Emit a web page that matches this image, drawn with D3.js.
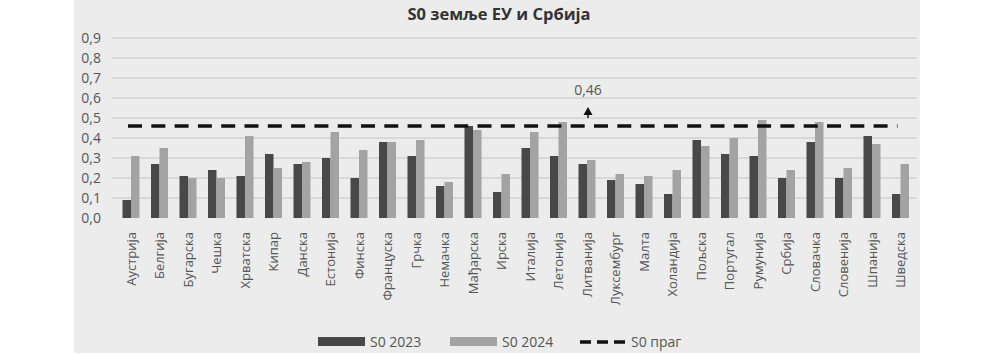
<html>
  <head>
    <script src="https://cdn.jsdelivr.net/npm/d3@7"></script>
    <style>
      body { margin: 0; background: #fff; }
      text { font-family: "Open Sans", sans-serif; }
    </style>
  </head>
  <body>
    <div id="chart"></div>
    <script>
      // categories (countries) and values
      const countries = [
        "Аустрија", "Белгија", "Бугарска", "Чешка", "Хрватска", "Кипар", "Данска",
        "Естонија", "Финска", "Француска", "Грчка", "Немачка", "Мађарска", "Ирска",
        "Италија", "Летонија", "Литванија", "Луксембург", "Малта", "Холандија",
        "Пољска", "Португал", "Румунија", "Србија", "Словачка", "Словенија",
        "Шпанија", "Шведска"
      ];
      const s0_2023 = [
        0.09, 0.27, 0.21, 0.24, 0.21, 0.32, 0.27, 0.30, 0.20, 0.38, 0.31, 0.16, 0.46, 0.13,
        0.35, 0.31, 0.27, 0.19, 0.17, 0.12, 0.39, 0.32, 0.31, 0.20, 0.38, 0.20, 0.41, 0.12
      ];
      const s0_2024 = [
        0.31, 0.35, 0.20, 0.20, 0.41, 0.25, 0.28, 0.43, 0.34, 0.38, 0.39, 0.18, 0.44, 0.22,
        0.43, 0.48, 0.29, 0.22, 0.21, 0.24, 0.36, 0.40, 0.49, 0.24, 0.48, 0.25, 0.37, 0.27
      ];
      const threshold = 0.46;
      const yTicks = [0, 0.1, 0.2, 0.3, 0.4, 0.5, 0.6, 0.7, 0.8, 0.9];
      const seriesNames = ["S0 2023", "S0 2024", "S0 праг"];

      let width = 994, height = 354;
      let svg = d3.select("#chart").append("svg")
        .attr("width", width).attr("height", height);

      // chart area background
      svg.append("rect")
        .attr("x", 74).attr("y", 0)
        .attr("width", 846).attr("height", 353)
        .attr("fill", "#ececec");

      let x = d3.scaleBand().domain(countries).range([116.75, 914.75]);
      let y = d3.scaleLinear().domain([0, 0.9]).range([218, 38]);
      let inner = d3.scaleBand().domain([0, 1]).range([0, 17]);
      let off = (x.bandwidth() - 17) / 2;

      // gridlines
      svg.append("g").selectAll("line")
        .data(yTicks.slice(1))
        .enter().append("line")
        .attr("x1", 112).attr("x2", 917)
        .attr("y1", d => y(d)).attr("y2", d => y(d))
        .attr("stroke", "#c4c4c4").attr("stroke-width", 1);

      // y axis labels
      let yAxis = d3.axisLeft(y).tickValues(yTicks)
        .tickFormat(d => d3.format(".1f")(d).replace(".", ","))
        .tickSize(0).tickPadding(0);
      let yg = svg.append("g").attr("transform", "translate(101,0)").call(yAxis);
      yg.select(".domain").remove();
      yg.selectAll("text")
        .attr("font-size", 14).attr("fill", "#555")
        .attr("font-family", "Open Sans, sans-serif");

      // bars
      let bars = svg.append("g");
      bars.selectAll(".b23").data(countries).enter().append("rect")
        .attr("x", d => x(d) + off + inner(0))
        .attr("y", (d, i) => y(s0_2023[i]))
        .attr("width", inner.bandwidth())
        .attr("height", (d, i) => y(0) - y(s0_2023[i]))
        .attr("fill", "#484848");
      bars.selectAll(".b24").data(countries).enter().append("rect")
        .attr("x", d => x(d) + off + inner(1))
        .attr("y", (d, i) => y(s0_2024[i]))
        .attr("width", inner.bandwidth())
        .attr("height", (d, i) => y(0) - y(s0_2024[i]))
        .attr("fill", "#a3a3a3");

      // threshold line
      let line = d3.line()
        .x(d => x(d) + x.bandwidth() / 2 - 3)
        .y(() => y(threshold));
      svg.append("path")
        .datum(countries)
        .attr("d", line)
        .attr("fill", "none")
        .attr("stroke", "#111")
        .attr("stroke-width", 3.5)
        .attr("stroke-dasharray", "14,9.3");

      // annotation 0,46 with arrow
      let ax = x("Литванија") + x.bandwidth() / 2 + 1;
      let ay = y(threshold);
      svg.append("text")
        .attr("x", ax).attr("y", ay - 31)
        .attr("text-anchor", "middle")
        .attr("font-size", 14).attr("fill", "#555")
        .text(d3.format(".2f")(threshold).replace(".", ","));
      svg.append("path")
        .attr("d", `M${ax},${ay - 19} L${ax - 4.5},${ay - 11} L${ax + 4.5},${ay - 11} Z`)
        .attr("fill", "#111");
      svg.append("line")
        .attr("x1", ax).attr("x2", ax)
        .attr("y1", ay - 12).attr("y2", ay - 8)
        .attr("stroke", "#111").attr("stroke-width", 1.5);

      // x labels, rotated
      svg.append("g").selectAll("text")
        .data(countries)
        .enter().append("text")
        .attr("transform", d => `translate(${x(d) + x.bandwidth() / 2 + 4.5},232) rotate(-90)`)
        .attr("text-anchor", "end")
        .attr("font-size", 13)
        .attr("fill", "#555")
        .text(d => d);

      // title
      svg.append("text")
        .attr("x", 499).attr("y", 20)
        .attr("text-anchor", "middle")
        .attr("font-size", 16.5).attr("font-weight", "bold")
        .attr("fill", "#333")
        .text("S0 земље ЕУ и Србија");

      // legend
      let lg = svg.append("g").attr("font-size", 14).attr("fill", "#555");
      lg.append("rect").attr("x", 318).attr("y", 337).attr("width", 47).attr("height", 9).attr("fill", "#484848");
      lg.append("text").attr("x", 370).attr("y", 347).attr("fill", "#555").text(seriesNames[0]);
      lg.append("rect").attr("x", 450).attr("y", 337).attr("width", 47).attr("height", 9).attr("fill", "#a3a3a3");
      lg.append("text").attr("x", 502).attr("y", 347).attr("fill", "#555").text(seriesNames[1]);
      lg.append("line").attr("x1", 580).attr("x2", 629).attr("y1", 342).attr("y2", 342)
        .attr("stroke", "#111").attr("stroke-width", 3.5).attr("stroke-dasharray", "11,6");
      lg.append("text").attr("x", 631).attr("y", 347).attr("fill", "#555").text(seriesNames[2]);
    </script>
  </body>
</html>
